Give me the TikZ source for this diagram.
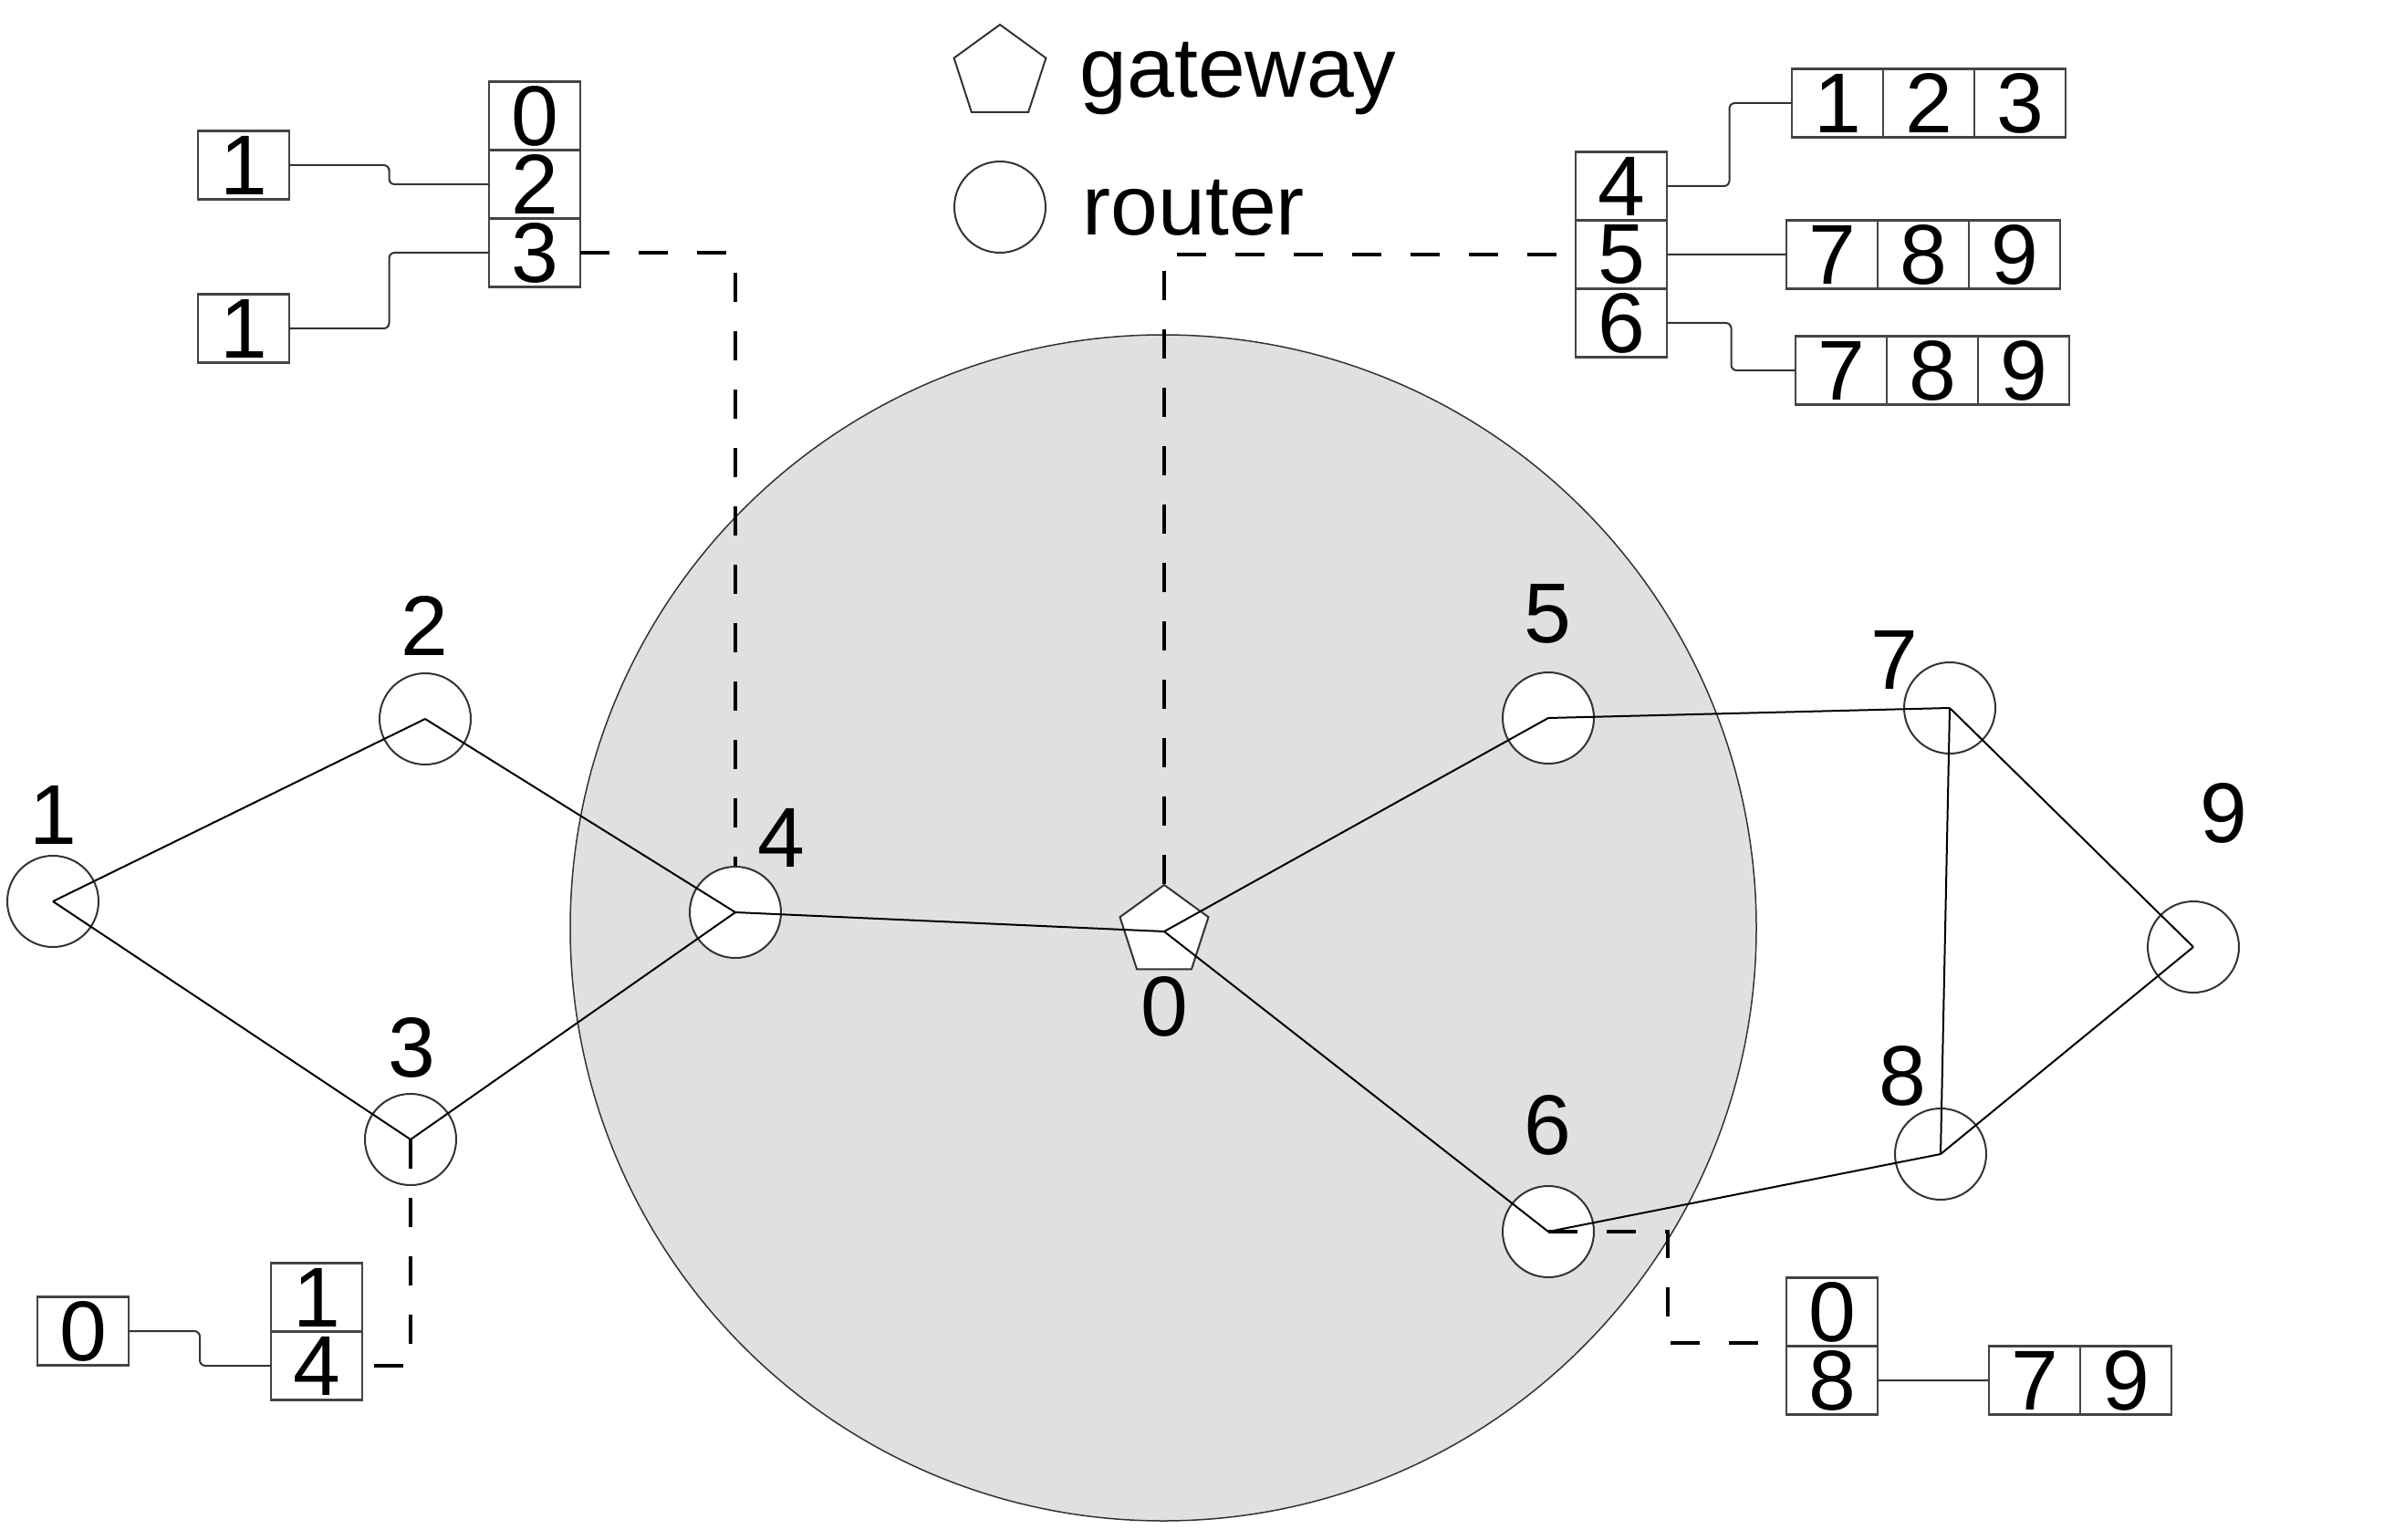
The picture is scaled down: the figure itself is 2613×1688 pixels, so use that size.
\documentclass[tikz,border=0pt]{standalone}
\usepackage{fontspec}
\setmainfont{Liberation Sans}
\usetikzlibrary{shapes.geometric,positioning,calc}

\definecolor{zonegray}{HTML}{E0E0E0}
\definecolor{linegray}{HTML}{333333}
\definecolor{boxgray}{HTML}{444444}
\newcommand\netfont{\fontsize{26.5}{30}\selectfont}

\tikzset{
  router/.style={circle, draw=linegray, fill=white, line width=0.2mm, minimum size=10mm, inner sep=0pt},
  gateway/.style={regular polygon, regular polygon sides=5, draw=linegray, fill=white, line width=0.2mm, minimum size=10.2mm, inner sep=0pt},
  lbl/.style={inner sep=0pt, font=\netfont},
  cell/.style={draw=boxgray, line width=0.25mm, minimum width=10mm, minimum height=7.5mm, inner sep=0pt, outer sep=0pt, font=\netfont},
  netline/.style={line width=0.2mm},
  boxlink/.style={draw=linegray, line width=0.2mm, rounded corners=0.6mm},
  dashlink/.style={line width=0.38mm, dash pattern=on 3.2mm off 3.2mm},
  elbow/.style={to path={-| ($(\tikztostart)!.5!(\tikztotarget)$) |- (\tikztotarget)}},
}

\begin{document}
\begin{tikzpicture}[x=0.1mm, y=-0.1mm]
\useasboundingbox (0,0) rectangle (2613,1688);
% zone round the gateway
\filldraw[fill=zonegray, draw=linegray, line width=0.15mm] (1275,1017) circle [radius=650];

% legend
\node[gateway, minimum size=10.6mm] (keygw) at (1096,80) {};
\node[router] (keyrt) at (1096,227) {};
\node[lbl, anchor=base west] (keygwtext) at (1183,107) {gateway};
\node[lbl, anchor=base west] (keyrttext) at (1186,258) {router};

% gateway and routers
\node[gateway] (g0) at (1276,1021) {};
\node[lbl] (l0) at (1276,1103) {0};
\foreach \n/\x/\y/\lx/\ly in {1/58/988/58/893, 2/466/788/465/686, 3/450/1249/451/1148,
  4/806/1000/856/918, 5/1697/787/1696/673, 6/1697/1350/1696/1233,
  7/2137/776/2076/723, 8/2127/1265/2085/1179, 9/2404/1038/2437/891} {
  \node[router] (r\n) at (\x,\y) {};
  \node[lbl] (l\n) at (\lx,\ly) {\n};
}
\foreach \a/\b in {r1/r2, r1/r3, r2/r4, r3/r4, r4/g0, g0/r5, g0/r6, r5/r7, r7/r9, r7/r8, r8/r9, r6/r8}
  \draw[netline] (\a.center) -- (\b.center);

% table of router 4
\node[cell] (t4r0) at (586,127) {0};
\node[cell, below=0mm of t4r0] (t4r2) {2};
\node[cell, below=0mm of t4r2] (t4r3) {3};
\node[cell] (n4r2) at (267,181) {1};
\node[cell] (n4r3) at (267,360) {1};
\draw[boxlink] (n4r2.east) to[elbow] (t4r2.west);
\draw[boxlink] (n4r3.east) to[elbow] (t4r3.west);
\draw[dashlink] (t4r3.east) -| (r4.north);

% table of the gateway
\node[cell] (t0r4) at (1777,204) {4};
\node[cell, below=0mm of t0r4] (t0r5) {5};
\node[cell, below=0mm of t0r5] (t0r6) {6};
\node[cell] (n0r4a) at (2014,113) {1};
\node[cell, right=0mm of n0r4a] (n0r4b) {2};
\node[cell, right=0mm of n0r4b] (n0r4c) {3};
\node[cell] (n0r5a) at (2008,279) {7};
\node[cell, right=0mm of n0r5a] (n0r5b) {8};
\node[cell, right=0mm of n0r5b] (n0r5c) {9};
\node[cell] (n0r6a) at (2018,406) {7};
\node[cell, right=0mm of n0r6a] (n0r6b) {8};
\node[cell, right=0mm of n0r6b] (n0r6c) {9};
\draw[boxlink] (t0r4.east) to[elbow] (n0r4a.west);
\draw[boxlink] (t0r5.east) -- (n0r5a.west);
\draw[boxlink] (t0r6.east) to[elbow] (n0r6a.west);
\draw[dashlink] (g0.north) |- (t0r5.west);

% table of router 3
\node[cell] (t3r1) at (347,1422) {1};
\node[cell, below=0mm of t3r1] (t3r4) {4};
\node[cell] (n3r4) at (91,1459) {0};
\draw[boxlink] (n3r4.east) to[elbow] (t3r4.west);
\draw[dashlink] (r3.center) |- (t3r4.east);

% table of router 6
\node[cell] (t6r0) at (2008,1438) {0};
\node[cell, below=0mm of t6r0] (t6r8) {8};
\node[cell] (n6r8a) at (2230,1513) {7};
\node[cell, right=0mm of n6r8a] (n6r8b) {9};
\draw[boxlink] (t6r8.east) -- (n6r8a.west);
\coordinate (bend6) at (1828,1472);
\draw[dashlink] (r6.center) -| (bend6) -- (bend6 -| t6r0.west);
\end{tikzpicture}
\end{document}
